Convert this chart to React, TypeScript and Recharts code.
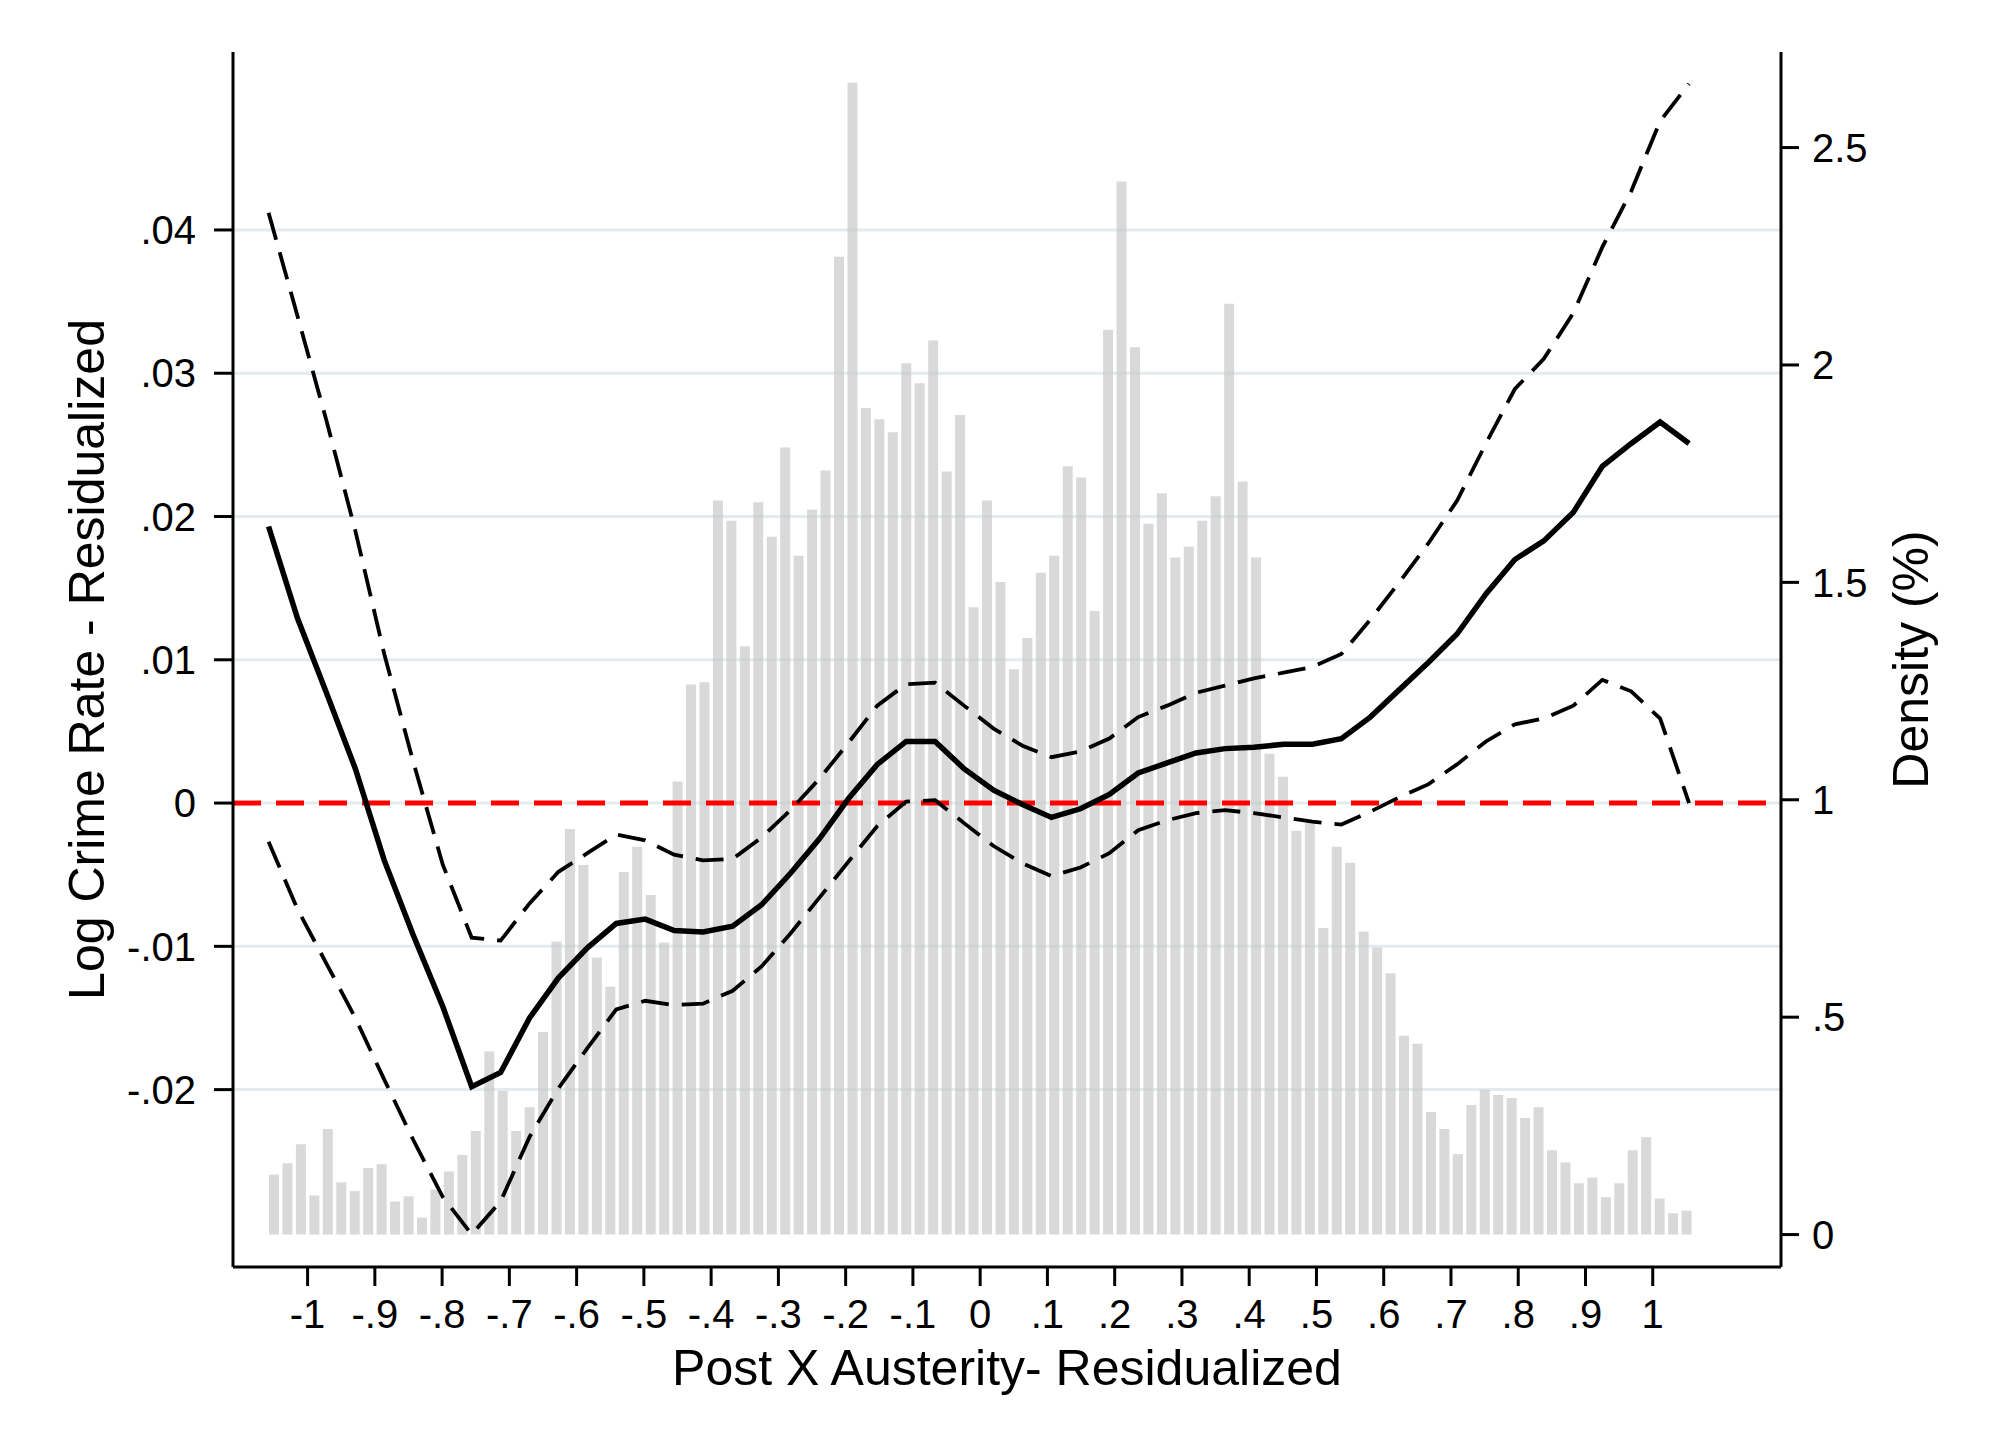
import { ComposedChart, Bar, Line, XAxis, YAxis, CartesianGrid, ReferenceLine, Label } from 'recharts';

// histogram bins (centres) and their density in %
const BIN_CENTERS = [
  -1.05, -1.03, -1.01, -0.99, -0.97, -0.95, -0.93, -0.91, -0.89, -0.87,
  -0.85, -0.83, -0.81, -0.79, -0.77, -0.75, -0.73, -0.71, -0.69, -0.67,
  -0.65, -0.63, -0.61, -0.59, -0.57, -0.55, -0.53, -0.51, -0.49, -0.47,
  -0.45, -0.43, -0.41, -0.39, -0.37, -0.35, -0.33, -0.31, -0.29, -0.27,
  -0.25, -0.23, -0.21, -0.19, -0.17, -0.15, -0.13, -0.11, -0.09, -0.07,
  -0.05, -0.03, -0.01, 0.01, 0.03, 0.05, 0.07, 0.09, 0.11, 0.13,
  0.15, 0.17, 0.19, 0.21, 0.23, 0.25, 0.27, 0.29, 0.31, 0.33,
  0.35, 0.37, 0.39, 0.41, 0.43, 0.45, 0.47, 0.49, 0.51, 0.53,
  0.55, 0.57, 0.59, 0.61, 0.63, 0.65, 0.67, 0.69, 0.71, 0.73,
  0.75, 0.77, 0.79, 0.81, 0.83, 0.85, 0.87, 0.89, 0.91, 0.93,
  0.95, 0.97, 0.99, 1.01, 1.03, 1.05,
];

const DENSITY = [
  0.138, 0.164, 0.208, 0.090, 0.243, 0.120, 0.100, 0.153, 0.162, 0.076,
  0.088, 0.039, 0.104, 0.145, 0.183, 0.238, 0.421, 0.330, 0.238, 0.293,
  0.466, 0.674, 0.933, 0.850, 0.637, 0.570, 0.834, 0.892, 0.781, 0.672,
  1.042, 1.265, 1.270, 1.688, 1.642, 1.353, 1.684, 1.605, 1.810, 1.561,
  1.667, 1.757, 2.249, 2.649, 1.901, 1.875, 1.845, 2.004, 1.958, 2.056,
  1.755, 1.885, 1.443, 1.688, 1.501, 1.300, 1.372, 1.522, 1.561, 1.767,
  1.741, 1.434, 2.081, 2.422, 2.041, 1.635, 1.705, 1.557, 1.582, 1.642,
  1.698, 2.141, 1.732, 1.557, 1.106, 1.053, 0.929, 0.947, 0.705, 0.892,
  0.855, 0.697, 0.660, 0.601, 0.457, 0.439, 0.282, 0.243, 0.185, 0.298,
  0.333, 0.321, 0.314, 0.268, 0.293, 0.194, 0.166, 0.118, 0.131, 0.086,
  0.118, 0.194, 0.224, 0.083, 0.049, 0.055,
];

// local polynomial fit and its confidence band
const GRID_X = [
  -1.058, -1.015, -0.972, -0.929, -0.886, -0.843, -0.799, -0.756, -0.713, -0.670,
  -0.627, -0.584, -0.541, -0.498, -0.455, -0.412, -0.368, -0.325, -0.282, -0.239,
  -0.196, -0.153, -0.110, -0.067, -0.024, 0.020, 0.063, 0.106, 0.149, 0.192,
  0.235, 0.278, 0.321, 0.364, 0.407, 0.451, 0.494, 0.537, 0.580, 0.623,
  0.666, 0.709, 0.752, 0.795, 0.838, 0.882, 0.925, 0.968, 1.011, 1.054,
];

const FIT = [
  0.0193, 0.0129, 0.0077, 0.0024, -0.0040, -0.0092, -0.0142, -0.0198, -0.0188, -0.0150,
  -0.0122, -0.0101, -0.0084, -0.0081, -0.0089, -0.0090, -0.0086, -0.0071, -0.0049, -0.0025,
  0.0003, 0.0027, 0.0043, 0.0043, 0.0024, 0.0009, -0.0001, -0.0010, -0.0004, 0.0006,
  0.0021, 0.0028, 0.0035, 0.0038, 0.0039, 0.0041, 0.0041, 0.0045, 0.0060, 0.0079,
  0.0098, 0.0118, 0.0146, 0.0170, 0.0183, 0.0203, 0.0235, 0.0251, 0.0266, 0.0251,
];

const UPPER = [
  0.0412, 0.0340, 0.0267, 0.0190, 0.0104, 0.0029, -0.0043, -0.0094, -0.0096, -0.0070,
  -0.0048, -0.0035, -0.0022, -0.0026, -0.0036, -0.0040, -0.0039, -0.0024, -0.0005, 0.0017,
  0.0042, 0.0068, 0.0083, 0.0084, 0.0068, 0.0052, 0.0040, 0.0032, 0.0036, 0.0045,
  0.0060, 0.0068, 0.0077, 0.0082, 0.0087, 0.0091, 0.0095, 0.0104, 0.0128, 0.0154,
  0.0181, 0.0211, 0.0251, 0.0289, 0.0310, 0.0342, 0.0388, 0.0427, 0.0476, 0.0502,
];

const LOWER = [
  -0.0027, -0.0074, -0.0112, -0.0150, -0.0193, -0.0235, -0.0275, -0.0301, -0.0278, -0.0233,
  -0.0199, -0.0171, -0.0144, -0.0138, -0.0141, -0.0140, -0.0131, -0.0114, -0.0091, -0.0066,
  -0.0041, -0.0016, 0.0001, 0.0002, -0.0014, -0.0030, -0.0042, -0.0051, -0.0045, -0.0035,
  -0.0019, -0.0012, -0.0007, -0.0005, -0.0007, -0.0010, -0.0013, -0.0015, -0.0006, 0.0004,
  0.0013, 0.0027, 0.0043, 0.0055, 0.0059, 0.0068, 0.0086, 0.0078, 0.0059, 0.0000,
];

const X_TICKS = [-1, -0.9, -0.8, -0.7, -0.6, -0.5, -0.4, -0.3, -0.2, -0.1, 0, 0.1, 0.2, 0.3, 0.4, 0.5, 0.6, 0.7, 0.8, 0.9, 1];
const LEFT_TICKS = [-0.02, -0.01, 0, 0.01, 0.02, 0.03, 0.04];
const RIGHT_TICKS = [0, 0.5, 1, 1.5, 2, 2.5];

const FONT = '"Liberation Sans", Arial, Helvetica, sans-serif';

const barData = BIN_CENTERS.map((bin, i) => ({ bin, density: DENSITY[i] }));
const lineData = GRID_X.map((x, i) => ({ x, fit: FIT[i], upper: UPPER[i], lower: LOWER[i] }));

// stata style: drop the leading zero (".04", "-.9")
const fmt = (v: number) => String(Math.round(v * 1000) / 1000).replace(/^(-?)0\./, '$1.');

const tickStyle = { fill: '#000', fontSize: 40, fontFamily: FONT };
const axisStroke = { stroke: '#000', strokeWidth: 3 };

export default function App() {
  return (
    <div style={{ width: 2000, height: 1455, background: '#fff' }}>
      <style>{'body{margin:0;background:#fff}'}</style>
      <ComposedChart width={2000} height={1455} data={barData} margin={{ top: 52, right: 0, bottom: 0, left: 0 }}>
        <CartesianGrid
          yAxisId="left"
          xAxisId="num"
          vertical={false}
          horizontalValues={LEFT_TICKS}
          stroke="#e4ebee"
          strokeWidth={3}
        />
        <XAxis xAxisId="bins" dataKey="bin" type="category" hide height={0} padding={{ left: 34, right: 88 }} />
        <XAxis
          xAxisId="num"
          dataKey="x"
          type="number"
          domain={[-1.1109, 1.1907]}
          allowDataOverflow
          ticks={X_TICKS}
          tickFormatter={fmt}
          interval={0}
          height={188}
          tickSize={19}
          tickMargin={14}
          tick={tickStyle}
          axisLine={axisStroke}
          tickLine={axisStroke}
        >
          <Label
            content={(p: any) => (
              <text
                x={p.viewBox.x + p.viewBox.width / 2}
                y={p.viewBox.y + 101}
                textAnchor="middle"
                dominantBaseline="central"
                fontSize={50}
                fontFamily={FONT}
                fill="#000"
              >
                Post X Austerity- Residualized
              </text>
            )}
          />
        </XAxis>
        <YAxis
          yAxisId="left"
          orientation="left"
          type="number"
          domain={[-0.03238, 0.05242]}
          allowDataOverflow
          ticks={LEFT_TICKS}
          tickFormatter={fmt}
          interval={0}
          width={233}
          tickSize={19}
          tickMargin={18}
          tick={tickStyle}
          axisLine={axisStroke}
          tickLine={axisStroke}
        >
          <Label
            content={(p: any) => {
              const cx = p.viewBox.x + 87;
              const cy = p.viewBox.y + p.viewBox.height / 2;
              return (
                <text
                  x={cx}
                  y={cy}
                  transform={`rotate(-90, ${cx}, ${cy})`}
                  textAnchor="middle"
                  dominantBaseline="central"
                  fontSize={50}
                  fontFamily={FONT}
                  fill="#000"
                >
                  Log Crime Rate - Residualized
                </text>
              );
            }}
          />
        </YAxis>
        <YAxis
          yAxisId="right"
          orientation="right"
          type="number"
          domain={[-0.0746, 2.7198]}
          allowDataOverflow
          ticks={RIGHT_TICKS}
          tickFormatter={fmt}
          interval={0}
          width={219}
          tickSize={18}
          tickMargin={13}
          tick={tickStyle}
          axisLine={axisStroke}
          tickLine={axisStroke}
        >
          <Label
            content={(p: any) => {
              const cx = p.viewBox.x + 130;
              const cy = p.viewBox.y + p.viewBox.height / 2;
              return (
                <text
                  x={cx}
                  y={cy}
                  transform={`rotate(-90, ${cx}, ${cy})`}
                  textAnchor="middle"
                  dominantBaseline="central"
                  fontSize={50}
                  fontFamily={FONT}
                  fill="#000"
                >
                  Density (%)
                </text>
              );
            }}
          />
        </YAxis>
        <Bar
          xAxisId="bins"
          yAxisId="right"
          dataKey="density"
          barSize={10}
          fill="#c4c4c4"
          fillOpacity={0.65}
          isAnimationActive={false}
        />
        <ReferenceLine xAxisId="num" yAxisId="left" y={0} stroke="#ff0000" strokeWidth={5} strokeDasharray="28 15" />
        <Line
          xAxisId="num"
          yAxisId="left"
          data={lineData}
          dataKey="upper"
          stroke="#000"
          strokeWidth={3.8}
          strokeDasharray="28 13"
          dot={false}
          activeDot={false}
          isAnimationActive={false}
        />
        <Line
          xAxisId="num"
          yAxisId="left"
          data={lineData}
          dataKey="lower"
          stroke="#000"
          strokeWidth={3.8}
          strokeDasharray="28 13"
          dot={false}
          activeDot={false}
          isAnimationActive={false}
        />
        <Line
          xAxisId="num"
          yAxisId="left"
          data={lineData}
          dataKey="fit"
          stroke="#000"
          strokeWidth={5.5}
          dot={false}
          activeDot={false}
          isAnimationActive={false}
        />
      </ComposedChart>
    </div>
  );
}
